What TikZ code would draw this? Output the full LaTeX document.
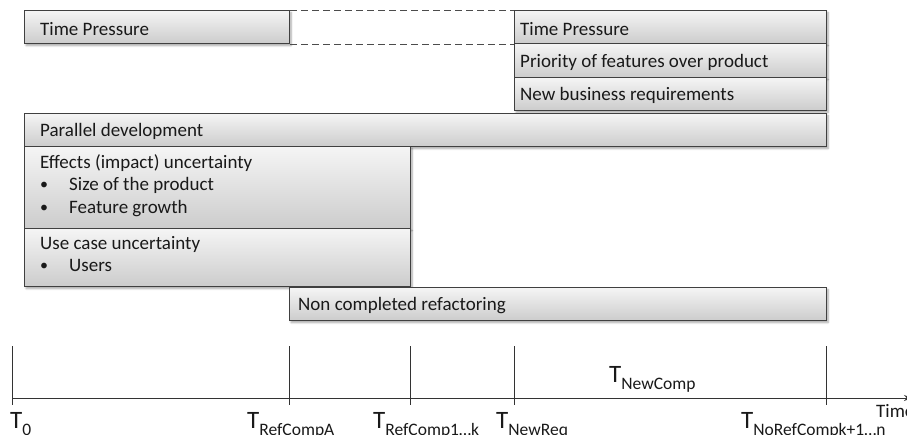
\documentclass[tikz,border=0pt]{standalone}
\usepackage{fontspec}
\setmainfont{Carlito}
\usetikzlibrary{shadows.blur,arrows.meta}

\tikzset{
  box/.style={draw=black!75, line width=1.1pt, rectangle, inner sep=0pt,
    anchor=north west, top color=gray!8, bottom color=gray!40,
    blur shadow={shadow xshift=1.5pt, shadow yshift=-2pt, shadow opacity=35, shadow blur steps=6}},
  txt/.style={inner sep=0pt, anchor=west, font=\fontsize{19}{22.5}\selectfont, text=black!90},
  mtxt/.style={txt, anchor=north west, align=left},
  gap/.style={draw=black!70, line width=0.9pt, dash pattern=on 7pt off 4pt},
  tick/.style={draw=black!80, line width=1pt},
  axis/.style={draw=black!80, line width=1pt, -{Stealth[length=8pt,width=6pt]}},
  tlabel/.style={inner sep=0pt, anchor=base west, text=black!90},
}
\newcommand{\tsub}[2]{{\fontsize{25}{25}\selectfont #1}\raisebox{-7pt}{\fontsize{17.5}{18}\selectfont #2}}
\newcommand{\bitem}[1]{\makebox[29pt][l]{\raisebox{1pt}{\fontsize{16}{16}\selectfont\textbullet}}#1}

\begin{document}
\begin{tikzpicture}[x=1pt,y=-1pt]
\useasboundingbox (0,0) rectangle (907,434);

% --- early time pressure and the later stack on the right
\node[box, minimum width=265, minimum height=33] (tpa) at (24,10) {};
\node[txt] (tpat) at ([xshift=16pt,yshift=-1.5pt]tpa.west) {Time Pressure};

\node[box, minimum width=312, minimum height=33] (tpb) at (514,10) {};
\node[txt] (tpbt) at ([xshift=6pt,yshift=-1.5pt]tpb.west) {Time Pressure};
\node[box, minimum width=312, minimum height=34] (prio) at (514,43) {};
\node[txt] (priot) at ([xshift=6pt,yshift=-1.5pt]prio.west) {Priority of features over product};
\node[box, minimum width=312, minimum height=33] (newb) at (514,77) {};
\node[txt] (newbt) at ([xshift=6pt,yshift=-1.5pt]newb.west) {New business requirements};

\draw[gap] (tpa.north east) -- (tpb.north west);
\draw[gap] (tpa.south east) -- (tpb.south west);

% --- parallel development across the whole period
\node[box, minimum width=802, minimum height=33] (par) at (24,113) {};
\node[txt] (part) at ([xshift=16pt,yshift=-1.5pt]par.west) {Parallel development};

% --- uncertainties
\node[box, minimum width=386, minimum height=82] (eff) at (24,146) {};
\node[mtxt] (efft) at ([xshift=16pt,yshift=-8pt]eff.north west)
  {Effects (impact) uncertainty\\\bitem{Size of the product}\\\bitem{Feature growth}};
\node[box, minimum width=386, minimum height=58] (use) at (24,228) {};
\node[mtxt] (uset) at ([xshift=16pt,yshift=-8pt]use.north west)
  {Use case uncertainty\\\bitem{Users}};

% --- refactoring
\node[box, minimum width=537, minimum height=33] (ref) at (289,287) {};
\node[txt] (reft) at ([xshift=9pt,yshift=-1.5pt]ref.west) {Non completed refactoring};

% --- time axis
\coordinate (a0) at (12,398);
\coordinate (aend) at (912,398);
\draw[axis] (a0) -- (aend);
\foreach \n/\x in {t0/12, tA/289, tK/410, tR/514, tN/826}{
  \coordinate (\n top) at (\x,346);
  \coordinate (\n bot) at (\x,405);
  \draw[tick] (\n top) -- (\n bot);
}

\node[tlabel] (l0) at (10,428) {\tsub{T}{0}};
\node[tlabel] (lA) at (247,428) {\tsub{T}{RefCompA}};
\node[tlabel] (lK) at (373,428) {\tsub{T}{RefComp1…k}};
\node[tlabel] (lR) at (496,428) {\tsub{T}{NewReq}};
\node[tlabel] (lN) at (741,428) {\tsub{T}{NoRefCompk+1…n}};
\node[tlabel] (lC) at (609,382) {\tsub{T}{NewComp}};
\node[tlabel, font=\fontsize{19}{20}\selectfont] (lt) at (876,417) {Time};

\end{tikzpicture}
\end{document}
